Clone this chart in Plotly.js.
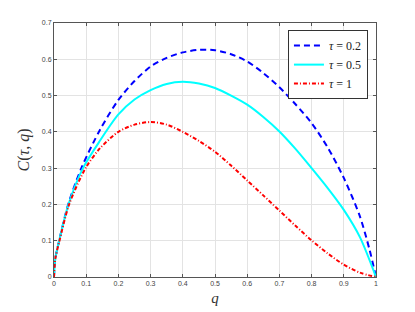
<!DOCTYPE html>
<html>
<head>
<meta charset="utf-8">
<script src="https://cdn.plot.ly/plotly-3.0.1.min.js"></script>
<style>html,body{margin:0;padding:0;background:#fff;}#chart{width:415px;height:312px;}</style>
</head>
<body>
<div id="chart"></div>
<script>
// q values where each curve was read
const q02 = [0, 0.004, 0.016, 0.044, 0.085, 0.143, 0.2, 0.25, 0.3, 0.35, 0.4, 0.45, 0.5, 0.55, 0.6, 0.65, 0.7, 0.75, 0.8, 0.85, 0.9, 0.95, 0.98, 1];
const c02 = [0, 0.05, 0.1, 0.2, 0.3, 0.406, 0.488, 0.54, 0.58, 0.604, 0.619, 0.626, 0.625, 0.614, 0.594, 0.562, 0.523, 0.476, 0.424, 0.357, 0.273, 0.167, 0.075, 0];

const q05 = [0, 0.004, 0.016, 0.045, 0.09, 0.143, 0.2, 0.25, 0.3, 0.35, 0.4, 0.45, 0.5, 0.55, 0.6, 0.65, 0.7, 0.75, 0.8, 0.85, 0.9, 0.95, 1];
const c05 = [0, 0.05, 0.1, 0.2, 0.3, 0.376, 0.448, 0.489, 0.515, 0.532, 0.538, 0.533, 0.521, 0.5, 0.475, 0.441, 0.401, 0.353, 0.3, 0.245, 0.185, 0.11, 0];

const q1 = [0, 0.004, 0.017, 0.047, 0.098, 0.143, 0.2, 0.25, 0.3, 0.35, 0.4, 0.45, 0.5, 0.55, 0.6, 0.65, 0.7, 0.75, 0.8, 0.85, 0.9, 0.95, 1];
const c1 = [0, 0.05, 0.1, 0.2, 0.3, 0.355, 0.4, 0.42, 0.427, 0.42, 0.4, 0.375, 0.345, 0.307, 0.266, 0.225, 0.183, 0.141, 0.101, 0.065, 0.034, 0.012, 0];

const names = ['<i>τ</i> = 0.2', '<i>τ</i> = 0.5', '<i>τ</i> = 1'];
const xTicks = [0, 0.1, 0.2, 0.3, 0.4, 0.5, 0.6, 0.7, 0.8, 0.9, 1];
const yTicks = [0, 0.1, 0.2, 0.3, 0.4, 0.5, 0.6, 0.7];

const traces = [
  {x: q02, y: c02, name: names[0], mode: 'lines', line: {color: '#0000ff', width: 2, dash: '6px,4px', shape: 'spline', smoothing: 0.8}},
  {x: q05, y: c05, name: names[1], mode: 'lines', line: {color: '#00ffff', width: 2, shape: 'spline', smoothing: 0.8}},
  {x: q1, y: c1, name: names[2], mode: 'lines', line: {color: '#ff0000', width: 2, dash: '4px,2px,1px,2px', shape: 'spline', smoothing: 0.8}}
];

const axisCommon = {
  showline: true, mirror: 'ticks', linecolor: '#555', linewidth: 1,
  ticks: 'inside', ticklen: 3, tickcolor: '#555',
  showgrid: true, gridcolor: '#e3e3e3', gridwidth: 1,
  zeroline: false,
  tickfont: {family: 'Liberation Sans, Arial, sans-serif', size: 7, color: '#444'}
};

const layout = {
  width: 415, height: 312,
  margin: {l: 54, r: 39, t: 23, b: 35},
  paper_bgcolor: '#fff', plot_bgcolor: '#fff',
  showlegend: true,
  legend: {
    x: 0.975, y: 0.972, xanchor: 'right', yanchor: 'top',
    bgcolor: '#fff', bordercolor: '#333', borderwidth: 1,
    font: {family: 'Liberation Serif, DejaVu Serif, serif', size: 12, color: '#222'},
    tracegroupgap: 0, itemwidth: 30
  },
  xaxis: Object.assign({}, axisCommon, {
    range: [0, 1], tickvals: xTicks, ticktext: xTicks.map(String),
    title: {text: '<i>q</i>', font: {family: 'Liberation Serif, DejaVu Serif, serif', size: 15, color: '#333'}, standoff: 6}
  }),
  yaxis: Object.assign({}, axisCommon, {
    range: [0, 0.7], tickvals: yTicks, ticktext: yTicks.map(String),
    title: {text: '<i>C</i>(<i>τ</i>, <i>q</i>)', font: {family: 'Liberation Serif, DejaVu Serif, serif', size: 16, color: '#333'}, standoff: 8}
  })
};

Plotly.newPlot('chart', traces, layout, {staticPlot: true, displayModeBar: false});
</script>
</body>
</html>
